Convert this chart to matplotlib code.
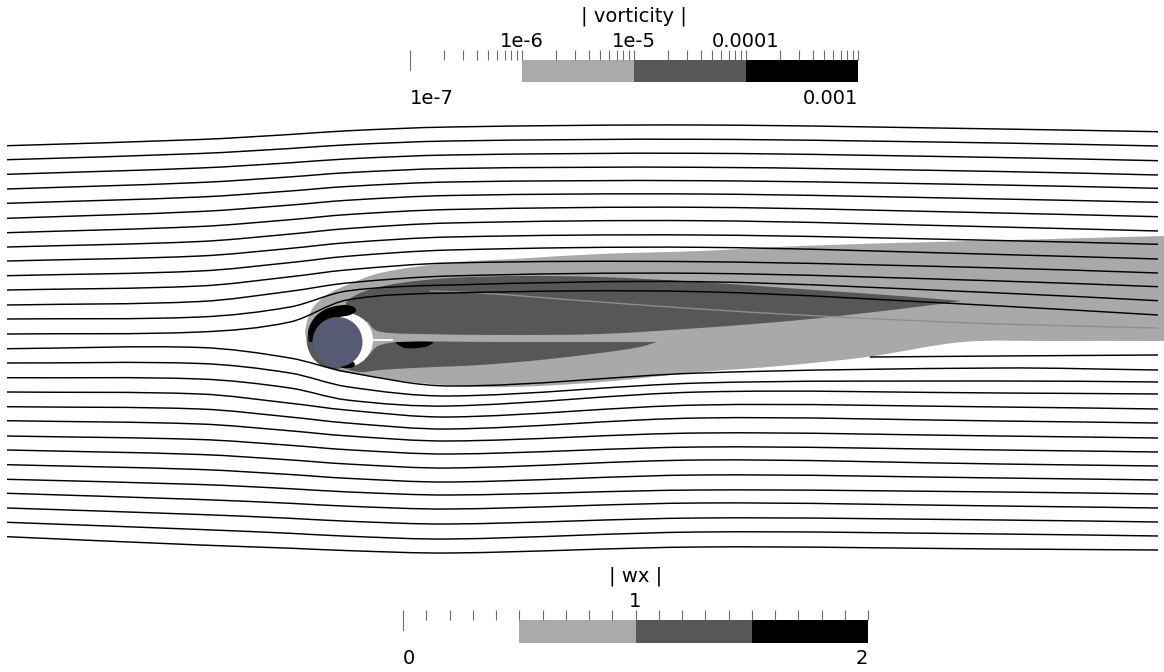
import numpy as np
import matplotlib
matplotlib.use("Agg")
import matplotlib.pyplot as plt
from matplotlib.path import Path
from matplotlib.patches import PathPatch, Circle, Ellipse
from matplotlib.ticker import LogLocator, MultipleLocator, NullFormatter

W, H = 1164, 672

# ---------------- data (pixel space of the render) ----------------
STATION_X = [7, 200, 290, 347, 450, 700, 1000, 1158]

UPPER_LINES_Y = [
    [145.7, 139.5, 134.5, 130.8, 127.0, 125.0, 129.0, 131.7],
    [159.7, 153.5, 148.5, 144.8, 141.0, 139.3, 143.0, 146.0],
    [174.3, 168.0, 162.8, 158.9, 155.0, 153.3, 157.5, 160.7],
    [189.0, 182.5, 176.9, 172.7, 168.5, 167.3, 171.5, 175.0],
    [203.3, 197.0, 191.0, 186.5, 182.0, 180.7, 185.0, 188.3],
    [218.3, 211.5, 205.1, 200.3, 195.5, 194.0, 199.0, 202.3],
    [232.7, 226.5, 219.7, 214.6, 209.5, 207.3, 213.0, 216.7],
    [247.0, 241.5, 234.1, 228.6, 223.0, 220.7, 227.0, 231.0],
    [261.0, 256.0, 248.4, 242.7, 237.0, 235.0, 240.5, 244.3],
    [275.7, 271.0, 262.6, 256.3, 250.0, 247.3, 254.5, 259.0],
    [290.0, 286.0, 276.8, 269.9, 263.0, 261.7, 268.0, 273.0],
    [305.0, 301.5, 291.3, 283.0, 276.0, 273.3, 281.0, 286.7],
    [319.0, 317.0, 307.0, 291.0, 285.0, 281.7, 293.0, 300.7],
    [334.0, 332.0, 322.0, 300.0, 293.0, 291.7, 306.0, 315.0],
]
LOWER_LINES_Y = [
    [348.7, 347.5, 358.0, 372.0, 386.0, 373.0, 368.0, 370.0],
    [363.0, 363.5, 373.0, 386.7, 396.0, 383.0, 381.0, 382.0],
    [377.7, 379.0, 388.0, 400.0, 406.0, 392.0, 393.0, 394.0],
    [392.0, 394.0, 403.2, 410.1, 417.0, 405.0, 407.0, 409.0],
    [406.7, 409.0, 417.0, 423.0, 429.0, 418.0, 421.0, 423.0],
    [420.7, 424.0, 430.8, 435.9, 441.0, 433.0, 436.0, 438.0],
    [436.0, 439.5, 445.3, 449.7, 454.0, 447.0, 450.0, 452.0],
    [450.0, 454.5, 459.9, 464.0, 468.0, 460.0, 464.0, 466.0],
    [464.7, 469.5, 474.5, 478.3, 482.0, 475.0, 478.0, 480.0],
    [479.3, 484.5, 488.7, 491.9, 495.0, 490.0, 492.0, 494.0],
    [493.3, 499.5, 503.3, 506.2, 509.0, 503.0, 506.0, 508.0],
    [508.0, 514.5, 518.3, 521.2, 524.0, 518.0, 520.0, 522.0],
    [522.3, 529.5, 533.3, 536.2, 539.0, 532.0, 534.0, 536.0],
    [536.7, 545.0, 548.2, 550.6, 553.0, 547.0, 549.0, 550.0],
]
EXTRA_LINE_X = [870, 1000, 1158]
EXTRA_LINE_Y = [357, 356, 355]
GRAY_LINE_X = [430, 480, 600, 700, 800, 900, 1000, 1158]
GRAY_LINE_Y = [291, 293, 302, 309, 315, 320, 324, 328]

# |vorticity| contour regions
LIGHT_TOP = [(305, 332), (308, 318), (315, 305), (330, 293), (347, 285), (380, 273), (447, 263),
             (513, 259), (600, 254), (700, 251), (800, 246), (933, 242), (1050, 239), (1164, 236)]
LIGHT_BOTTOM = [(1164, 341), (1050, 341), (963, 342), (867, 357), (780, 366), (700, 372), (613, 381),
                (540, 386), (480, 387), (420, 383), (380, 378), (355, 374), (330, 369), (315, 359), (307, 346)]
DARK_UP_TOP = [(347, 314), (346, 303), (356, 295), (372, 289), (400, 283), (450, 278), (520, 276),
               (600, 277), (700, 282), (800, 289), (900, 296), (962, 301)]
DARK_UP_BOTTOM = [(962, 301), (900, 309), (800, 320), (700, 328), (600, 334), (500, 335), (420, 334),
                  (390, 333), (375, 330), (368, 322)]
DARK_LOW_TOP = [(368, 356), (378, 346), (400, 342), (500, 342), (600, 342), (657, 342)]
DARK_LOW_BOTTOM = [(657, 342), (640, 347), (600, 353), (540, 360), (480, 365), (413, 368), (380, 370),
                   (362, 372), (348, 370)]
BLACK_CAP = [(309, 342), (308, 332), (311, 323), (317, 315), (326, 309), (336, 306), (346, 305),
             (354, 307), (356, 311), (350, 315), (340, 317), (330, 320), (321, 327), (315, 335), (313, 342)]
BLACK_WAKE = [(395, 342), (433, 342), (428, 346), (418, 348), (405, 348), (398, 345)]

SPHERE_C = (337.5, 342.0)
SPHERE_R = 25.0

# colour bars
VORT_RANGE = (1e-7, 1e-3)
VORT_EDGES = [1e-6, 1e-5, 1e-4, 1e-3]
VORT_TOP_TICKS = [1e-6, 1e-5, 1e-4]
VORT_TOP_LABELS = ["1e-6", "1e-5", "0.0001"]
VORT_END_LABELS = ["1e-7", "0.001"]
VORT_TITLE = "| vorticity |"
WX_RANGE = (0.0, 2.0)
WX_EDGES = [0.5, 1.0, 1.5, 2.0]
WX_TOP_TICKS = [1.0]
WX_TOP_LABELS = ["1"]
WX_END_LABELS = ["0", "2"]
WX_TITLE = "| wx |"
BAND_COLORS = ["#aaaaaa", "#575757", "#000000"]

LIGHT = "#a9a9a9"
DARK = "#575757"
FONT = "DejaVu Sans"
FS = 14
TICK_COLOR = "#6e6e6e"


def hermite_x_path(xs, ys):
    x = np.asarray(xs, float)
    y = np.asarray(ys, float)
    n = len(x)
    m = np.empty(n)
    m[0] = (y[1] - y[0]) / (x[1] - x[0])
    m[-1] = (y[-1] - y[-2]) / (x[-1] - x[-2])
    for i in range(1, n - 1):
        m[i] = (y[i + 1] - y[i - 1]) / (x[i + 1] - x[i - 1])
    verts = [(x[0], y[0])]
    codes = [Path.MOVETO]
    for i in range(n - 1):
        h = x[i + 1] - x[i]
        verts += [(x[i] + h / 3, y[i] + m[i] * h / 3),
                  (x[i + 1] - h / 3, y[i + 1] - m[i + 1] * h / 3),
                  (x[i + 1], y[i + 1])]
        codes += [Path.CURVE4] * 3
    return Path(verts, codes)


def chord_curve(pts):
    P = np.asarray(pts, float)
    n = len(P)
    d = np.linalg.norm(np.diff(P, axis=0), axis=1)
    T = np.zeros_like(P)
    T[0] = (P[1] - P[0]) / d[0]
    T[-1] = (P[-1] - P[-2]) / d[-1]
    for i in range(1, n - 1):
        T[i] = (P[i + 1] - P[i - 1]) / (d[i - 1] + d[i])
    verts, codes = [], []
    for i in range(n - 1):
        verts += [tuple(P[i] + T[i] * d[i] / 3), tuple(P[i + 1] - T[i + 1] * d[i] / 3), tuple(P[i + 1])]
        codes += [Path.CURVE4] * 3
    return verts, codes


def shape_path(pieces):
    verts = [tuple(pieces[0][0])]
    codes = [Path.MOVETO]
    for k, pc in enumerate(pieces):
        if k > 0:
            verts.append(tuple(pc[0]))
            codes.append(Path.LINETO)
        v, c = chord_curve(pc)
        verts += v
        codes += c
    verts.append(tuple(pieces[0][0]))
    codes.append(Path.CLOSEPOLY)
    return Path(verts, codes)


fig = plt.figure(figsize=(W / 100, H / 100), dpi=100)
fig.patch.set_facecolor("white")
ax = fig.add_axes([0, 0, 1, 1])
ax.set_xlim(0, W)
ax.set_ylim(H, 0)
ax.axis("off")

# contour regions
ax.add_patch(PathPatch(shape_path([LIGHT_TOP, LIGHT_BOTTOM]), fc=LIGHT, ec="none", zorder=1))
ax.add_patch(PathPatch(shape_path([DARK_UP_TOP, DARK_UP_BOTTOM]), fc=DARK, ec="none", zorder=2))
ax.add_patch(PathPatch(shape_path([DARK_LOW_TOP, DARK_LOW_BOTTOM]), fc=DARK, ec="none", zorder=2))
ax.add_patch(Circle((SPHERE_C[0] - 2.5, SPHERE_C[1] - 1), SPHERE_R + 3, fc=DARK, ec="none", zorder=3))
ax.add_patch(Circle((SPHERE_C[0] + 8.5, SPHERE_C[1] - 2), SPHERE_R + 2, fc="white", ec="none", zorder=4))
ax.add_patch(PathPatch(shape_path([BLACK_CAP]), fc="black", ec="none", zorder=5))
ax.add_patch(PathPatch(shape_path([BLACK_WAKE]), fc="black", ec="none", zorder=5))
ax.add_patch(Ellipse((SPHERE_C[0] + 9.5, SPHERE_C[1] + 22.5), 16, 8, fc="black", ec="none", zorder=5))
ax.plot([SPHERE_C[0] + 24, SPHERE_C[0] + 55], [SPHERE_C[1] - 2.5, SPHERE_C[1] - 2.5],
        color="white", lw=1.3, zorder=5, solid_capstyle="butt")

# streamlines
ax.add_patch(PathPatch(hermite_x_path(GRAY_LINE_X, GRAY_LINE_Y), fc="none", ec="#8e8e8e", lw=1.0, zorder=6))
for ys in UPPER_LINES_Y + LOWER_LINES_Y:
    ax.add_patch(PathPatch(hermite_x_path(STATION_X, ys), fc="none", ec="black", lw=1.05, zorder=7))
ax.add_patch(PathPatch(hermite_x_path(EXTRA_LINE_X, EXTRA_LINE_Y), fc="none", ec="black", lw=1.05, zorder=7))

# sphere
ax.add_patch(Circle(SPHERE_C, SPHERE_R, fc="#575a74", ec="none", zorder=9))


def colour_bar(rect_px, rng, edges, log, minor_step, top_ticks, top_labels, end_labels, title,
               top_base, low_base, title_base, title_x):
    x0, y0, x1, y1 = rect_px
    cax = fig.add_axes([x0 / W, 1 - y1 / H, (x1 - x0) / W, (y1 - y0) / H])
    if log:
        cax.set_xscale("log")
    cax.set_xlim(*rng)
    cax.set_ylim(0, 1)
    for a, b, col in zip(edges[:-1], edges[1:], BAND_COLORS):
        cax.bar(a, 1, width=b - a, align="edge", color=col, linewidth=0)
    for s in cax.spines.values():
        s.set_visible(False)
    if log:
        cax.xaxis.set_major_locator(LogLocator(base=10, numticks=10))
        cax.xaxis.set_minor_locator(LogLocator(base=10, subs=np.arange(2, 10), numticks=20))
    else:
        cax.xaxis.set_major_locator(MultipleLocator(minor_step))
        cax.xaxis.set_minor_locator(MultipleLocator(minor_step))
    cax.xaxis.set_minor_formatter(NullFormatter())
    cax.tick_params(axis="x", which="both", top=True, bottom=False, labeltop=False, labelbottom=False,
                    direction="out", length=7.2, width=0.8, color=TICK_COLOR)
    cax.tick_params(axis="y", left=False, labelleft=False)
    cax.axvline(rng[0], ymin=0.55, ymax=1.0, color=TICK_COLOR, lw=0.8, clip_on=False)
    hpx = y1 - y0
    tr = cax.get_xaxis_transform()
    for v, lab in zip(top_ticks, top_labels):
        cax.text(v, (y1 - top_base) / hpx, lab, transform=tr, ha="center", va="baseline",
                 fontsize=FS, family=FONT)
    cax.text(rng[0], (y1 - low_base) / hpx, end_labels[0], transform=tr, ha="left", va="baseline",
             fontsize=FS, family=FONT)
    cax.text(rng[1], (y1 - low_base) / hpx, end_labels[1], transform=tr, ha="right", va="baseline",
             fontsize=FS, family=FONT)
    cax.text(title_x, (y1 - title_base) / hpx, title, transform=tr, ha="center", va="baseline",
             fontsize=FS, family=FONT)
    return cax


colour_bar((410, 60, 858, 82), VORT_RANGE, VORT_EDGES, True, None, VORT_TOP_TICKS, VORT_TOP_LABELS,
           VORT_END_LABELS, VORT_TITLE, 47, 104, 21, 1e-5)
colour_bar((403, 620, 868, 643), WX_RANGE, WX_EDGES, False, 0.1, WX_TOP_TICKS, WX_TOP_LABELS,
           WX_END_LABELS, WX_TITLE, 607, 664, 582, 1.0)

fig.savefig("out.png", dpi=100, facecolor="white")
